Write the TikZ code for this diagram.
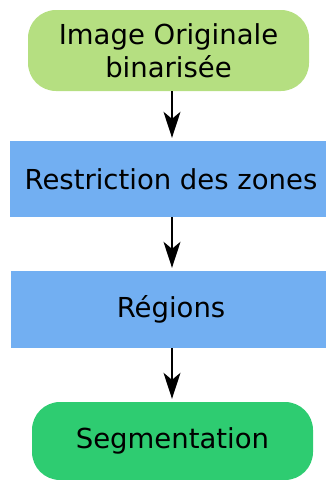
\documentclass[tikz,border=0pt]{standalone}
\usepackage{fontspec}
\setmainfont{DejaVu Sans}
\usetikzlibrary{arrows.meta}
\definecolor{topgreen}{RGB}{181,223,129}
\definecolor{boxblue}{RGB}{114,175,242}
\definecolor{botgreen}{RGB}{46,204,113}
\tikzset{
  every node/.style={font=\fontsize{27.5}{33}\selectfont, inner sep=0pt, align=center},
  roundbox/.style={rounded corners=28pt, draw=none},
  rectbox/.style={draw=none},
  arr/.style={line width=1.5pt, -{Stealth[length=26pt,width=17pt,inset=7pt]}, shorten >=3pt},
}
\begin{document}
\begin{tikzpicture}[x=1pt,y=-1pt]
\useasboundingbox (0,0) rectangle (326,480);
\node[roundbox, fill=topgreen, minimum width=281pt, minimum height=81pt] (n1) at (168.5,50.5) {Image Originale\\binarisée};
\node[rectbox, fill=boxblue, minimum width=322pt, minimum height=76pt] (n2) at (171,179) {Restriction des zones};
\node[rectbox, fill=boxblue, minimum width=320pt, minimum height=77pt] (n3) at (171,309.5) {Régions};
\node[roundbox, fill=botgreen, minimum width=281pt, minimum height=78pt] (n4) at (172.5,441) {Segmentation};
\coordinate (ax) at (172,0);
\draw[arr] (n1.south -| ax) -- (n2.north -| ax);
\draw[arr] (n2.south -| ax) -- (n3.north -| ax);
\draw[arr] (n3.south -| ax) -- (n4.north -| ax);
\end{tikzpicture}
\end{document}
